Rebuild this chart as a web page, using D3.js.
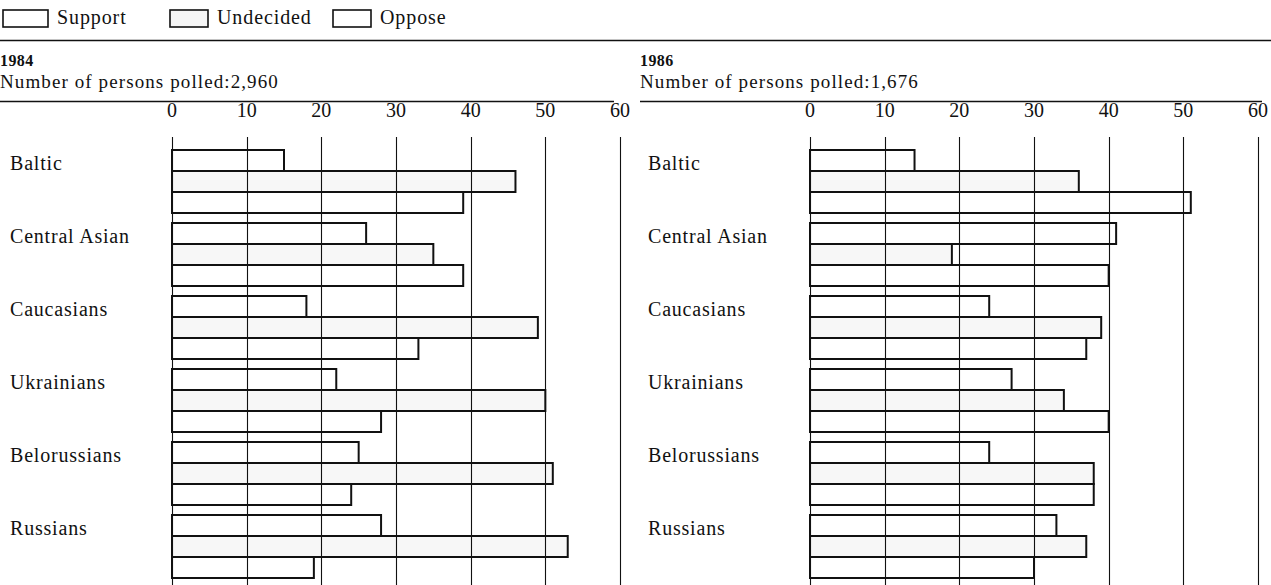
<!DOCTYPE html>
<html>
<head>
<meta charset="utf-8">
<script src="https://cdn.jsdelivr.net/npm/d3@7"></script>
<style>
  body { margin: 0; background: #fff; }
  svg { display: block; font-family: "Liberation Serif", "DejaVu Serif", serif; }
</style>
</head>
<body>
<div id="chart"></div>
<script>
const categories = ['Baltic', 'Central Asian', 'Caucasians', 'Ukrainians', 'Belorussians', 'Russians'];
const seriesNames = ['Support', 'Undecided', 'Oppose'];
const ticks = [0, 10, 20, 30, 40, 50, 60];

const support1984 = [15, 26, 18, 22, 25, 28];
const undecided1984 = [46, 35, 49, 50, 51, 53];
const oppose1984 = [39, 39, 33, 28, 24, 19];

const support1986 = [14, 41, 24, 27, 24, 33];
const undecided1986 = [36, 19, 39, 34, 38, 37];
const oppose1986 = [51, 40, 37, 40, 38, 30];

const panels = [
  { year: '1984', polled: '2,960', values: [support1984, undecided1984, oppose1984], x0: 0, range: [172, 620], ruleEnd: 614, labelX: 10 },
  { year: '1986', polled: '1,676', values: [support1986, undecided1986, oppose1986], x0: 640, range: [810, 1258], ruleEnd: 1262, labelX: 648 },
];

const width = 1271, height = 585;
const svg = d3.select('#chart').append('svg')
  .attr('width', width)
  .attr('height', height);

// legend
const legendPos = [{ box: 3, w: 45 }, { box: 170, w: 38 }, { box: 333, w: 38 }];
seriesNames.forEach((name, i) => {
  const p = legendPos[i];
  svg.append('rect')
    .attr('x', p.box).attr('y', 10)
    .attr('width', p.w).attr('height', 17)
    .attr('fill', i === 1 ? '#f5f5f5' : '#fff')
    .attr('stroke', '#111').attr('stroke-width', 1.6);
  svg.append('text')
    .attr('x', p.box + p.w + 9).attr('y', 24)
    .attr('font-size', '20px').attr('letter-spacing', '0.9px').attr('fill', '#111')
    .text(name);
});

svg.append('line')
  .attr('x1', 0).attr('x2', width)
  .attr('y1', 40.5).attr('y2', 40.5)
  .attr('stroke', '#111').attr('stroke-width', 1.3);

const y0 = d3.scaleBand()
  .domain(categories)
  .range([150, 578])
  .paddingInner(10 / 73)
  .paddingOuter(0);

const y1 = d3.scaleBand()
  .domain(seriesNames)
  .range([0, y0.bandwidth()]);

panels.forEach(panel => {
  const g = svg.append('g');
  const x = d3.scaleLinear().domain([0, 60]).range(panel.range);

  g.append('text')
    .attr('x', panel.x0).attr('y', 66)
    .attr('font-size', '16px').attr('font-weight', 'bold').attr('letter-spacing', '0.4px').attr('fill', '#111')
    .text(panel.year);
  g.append('text')
    .attr('x', panel.x0).attr('y', 88)
    .attr('font-size', '19px').attr('letter-spacing', '1.1px').attr('fill', '#111')
    .text('Number of persons polled:' + panel.polled);

  g.append('line')
    .attr('x1', panel.x0).attr('x2', panel.ruleEnd)
    .attr('y1', 101.5).attr('y2', 101.5)
    .attr('stroke', '#111').attr('stroke-width', 1.3);

  // tick labels
  g.selectAll('.tick-label')
    .data(ticks)
    .enter().append('text')
    .attr('class', 'tick-label')
    .attr('x', d => x(d))
    .attr('y', 117)
    .attr('text-anchor', 'middle')
    .attr('font-size', '20px').attr('fill', '#111')
    .text(d => d);

  // gridlines
  g.selectAll('.grid')
    .data(ticks)
    .enter().append('line')
    .attr('class', 'grid')
    .attr('x1', d => Math.round(x(d)) + 0.5).attr('x2', d => Math.round(x(d)) + 0.5)
    .attr('y1', 137).attr('y2', height)
    .attr('stroke', '#111').attr('stroke-width', 1.1);

  // category labels
  g.selectAll('.cat')
    .data(categories)
    .enter().append('text')
    .attr('class', 'cat')
    .attr('x', panel.labelX)
    .attr('y', d => y0(d) + y1.bandwidth() / 2 + 9)
    .attr('font-size', '20px').attr('letter-spacing', '0.8px').attr('fill', '#111')
    .text(d => d);

  // bars
  categories.forEach((cat, ci) => {
    seriesNames.forEach((s, si) => {
      const v = panel.values[si][ci];
      g.append('rect')
        .attr('x', x(0))
        .attr('y', y0(cat) + y1(s))
        .attr('width', x(v) - x(0))
        .attr('height', y1.bandwidth())
        .attr('fill', si === 1 ? 'rgba(0,0,0,0.03)' : 'none')
        .attr('stroke', '#111')
        .attr('stroke-width', 2);
    });
  });
});
</script>
</body>
</html>
